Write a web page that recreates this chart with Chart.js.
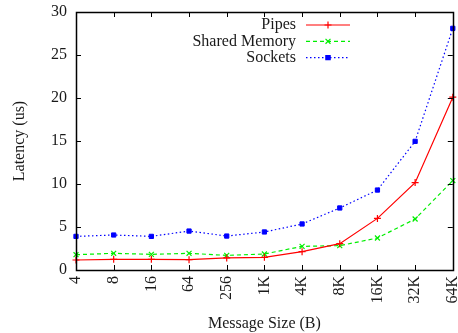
<!DOCTYPE html>
<html>
<head>
<meta charset="utf-8">
<script src="https://cdn.jsdelivr.net/npm/chart.js@4"></script>
<style>
  html, body { margin: 0; padding: 0; background: #fff; }
  #wrap { width: 458px; height: 333px; }
</style>
</head>
<body>
<div id="wrap"><canvas id="grafico" width="458" height="333"></canvas></div>
<script>
const tamanhos = ["4", "8", "16", "64", "256", "1K", "4K", "8K", "16K", "32K", "64K"];
const pipes = [1.16, 1.24, 1.24, 1.2, 1.4, 1.47, 2.13, 3.06, 6.0, 10.16, 20.1];
const sharedMemory = [1.78, 1.94, 1.82, 1.94, 1.7, 1.86, 2.75, 2.83, 3.72, 5.93, 10.4];
const sockets = [3.91, 4.07, 3.91, 4.53, 3.95, 4.42, 5.35, 7.21, 9.3, 14.96, 28.1];
const yTicks = [0, 5, 10, 15, 20, 25, 30];

const fonte = "Liberation Serif";
const corTexto = "#1a1a1a";

// moldura e marcas para dentro, estilo gnuplot
const moldura = {
  id: "moldura",
  afterDatasetsDraw(chart) {
    const ctx = chart.ctx;
    const a = chart.chartArea;
    const tam = 5;
    ctx.save();
    ctx.strokeStyle = "#000";
    ctx.lineWidth = 1;
    ctx.beginPath();
    chart.scales.y.ticks.forEach((t) => {
      const y = Math.round(chart.scales.y.getPixelForValue(t.value)) + 0.5;
      ctx.moveTo(a.left, y); ctx.lineTo(a.left + tam, y);
      ctx.moveTo(a.right, y); ctx.lineTo(a.right - tam, y);
    });
    chart.scales.x.ticks.forEach((t, i) => {
      const x = Math.round(chart.scales.x.getPixelForTick(i)) + 0.5;
      ctx.moveTo(x, a.bottom); ctx.lineTo(x, a.bottom - tam);
      ctx.moveTo(x, a.top); ctx.lineTo(x, a.top + tam);
    });
    ctx.stroke();
    ctx.lineWidth = 1.5;
    ctx.strokeRect(Math.round(a.left) + 0.5, Math.round(a.top) + 0.5,
      Math.round(a.right - a.left), Math.round(a.bottom - a.top));
    ctx.restore();
  },
};

// legenda com texto alinhado a direita e amostra da linha depois
const legenda = {
  id: "legenda",
  afterDraw(chart) {
    const ctx = chart.ctx;
    const textoX = 296;
    const linhaIni = 306;
    const linhaFim = 350;
    ctx.save();
    ctx.font = "16px '" + fonte + "'";
    ctx.textAlign = "right";
    ctx.textBaseline = "middle";
    chart.data.datasets.forEach((ds, i) => {
      const y = 25 + i * 16.3;
      ctx.fillStyle = corTexto;
      ctx.fillText(ds.label, textoX, y);
      ctx.strokeStyle = ds.borderColor;
      ctx.lineWidth = ds.borderWidth;
      ctx.setLineDash(ds.borderDash || []);
      ctx.beginPath();
      ctx.moveTo(linhaIni, y);
      ctx.lineTo(linhaFim, y);
      ctx.stroke();
      ctx.setLineDash([]);
      Chart.helpers.drawPoint(ctx, {
        pointStyle: ds.pointStyle,
        radius: ds.pointRadius,
        borderWidth: ds.pointBorderWidth || 1,
      }, (linhaIni + linhaFim) / 2, y);
      if (ds.pointStyle === "rect") {
        ctx.fillStyle = ds.pointBackgroundColor;
        ctx.fill();
      }
    });
    ctx.restore();
  },
};

const grafico = new Chart(document.getElementById("grafico"), {
  type: "line",
  data: {
    labels: tamanhos,
    datasets: [
      {
        label: "Pipes",
        data: pipes,
        borderColor: "#ff0000",
        backgroundColor: "#ff0000",
        borderWidth: 1.2,
        pointStyle: "cross",
        pointRadius: 3.5,
        pointBorderWidth: 1.2,
        pointBorderColor: "#ff0000",
      },
      {
        label: "Shared Memory",
        data: sharedMemory,
        borderColor: "#00ee00",
        backgroundColor: "#00ee00",
        borderWidth: 1.2,
        borderDash: [4, 3],
        pointStyle: "crossRot",
        pointRadius: 3.5,
        pointBorderWidth: 1.2,
        pointBorderColor: "#00ee00",
      },
      {
        label: "Sockets",
        data: sockets,
        borderColor: "#0000ff",
        backgroundColor: "#0000ff",
        borderWidth: 1.2,
        borderDash: [1.5, 2.5],
        pointStyle: "rect",
        pointRadius: 3,
        pointBorderWidth: 1,
        pointBorderColor: "#0000ff",
        pointBackgroundColor: "#0000ff",
      },
    ],
  },
  options: {
    responsive: false,
    animation: false,
    layout: { padding: { top: 12, right: 5, left: 0, bottom: 0 } },
    plugins: { legend: { display: false }, tooltip: { enabled: false } },
    scales: {
      x: {
        type: "category",
        offset: false,
        grid: { display: false, drawTicks: false },
        border: { display: false },
        ticks: {
          minRotation: 90,
          maxRotation: 90,
          autoSkip: false,
          padding: 6,
          color: corTexto,
          font: { family: fonte, size: 16 },
        },
        title: {
          display: true,
          text: "Message Size (B)",
          color: corTexto,
          font: { family: fonte, size: 16 },
          padding: { top: 4, bottom: 0 },
        },
        afterFit(scale) {
          scale.height = 63;
          scale.paddingLeft = 0;
          scale.paddingRight = 0;
        },
      },
      y: {
        min: 0,
        max: 30,
        afterBuildTicks(scale) { scale.ticks = yTicks.map((v) => ({ value: v })); },
        grid: { display: false, drawTicks: false },
        border: { display: false },
        ticks: {
          padding: 9,
          color: corTexto,
          font: { family: fonte, size: 16 },
        },
        title: {
          display: true,
          text: "Latency (us)",
          color: corTexto,
          font: { family: fonte, size: 16 },
          padding: { top: 10, bottom: 4 },
        },
        afterFit(scale) {
          scale.width = 76;
          scale.paddingTop = 0;
          scale.paddingBottom = 0;
        },
      },
    },
  },
  plugins: [moldura, legenda],
});
</script>
</body>
</html>
